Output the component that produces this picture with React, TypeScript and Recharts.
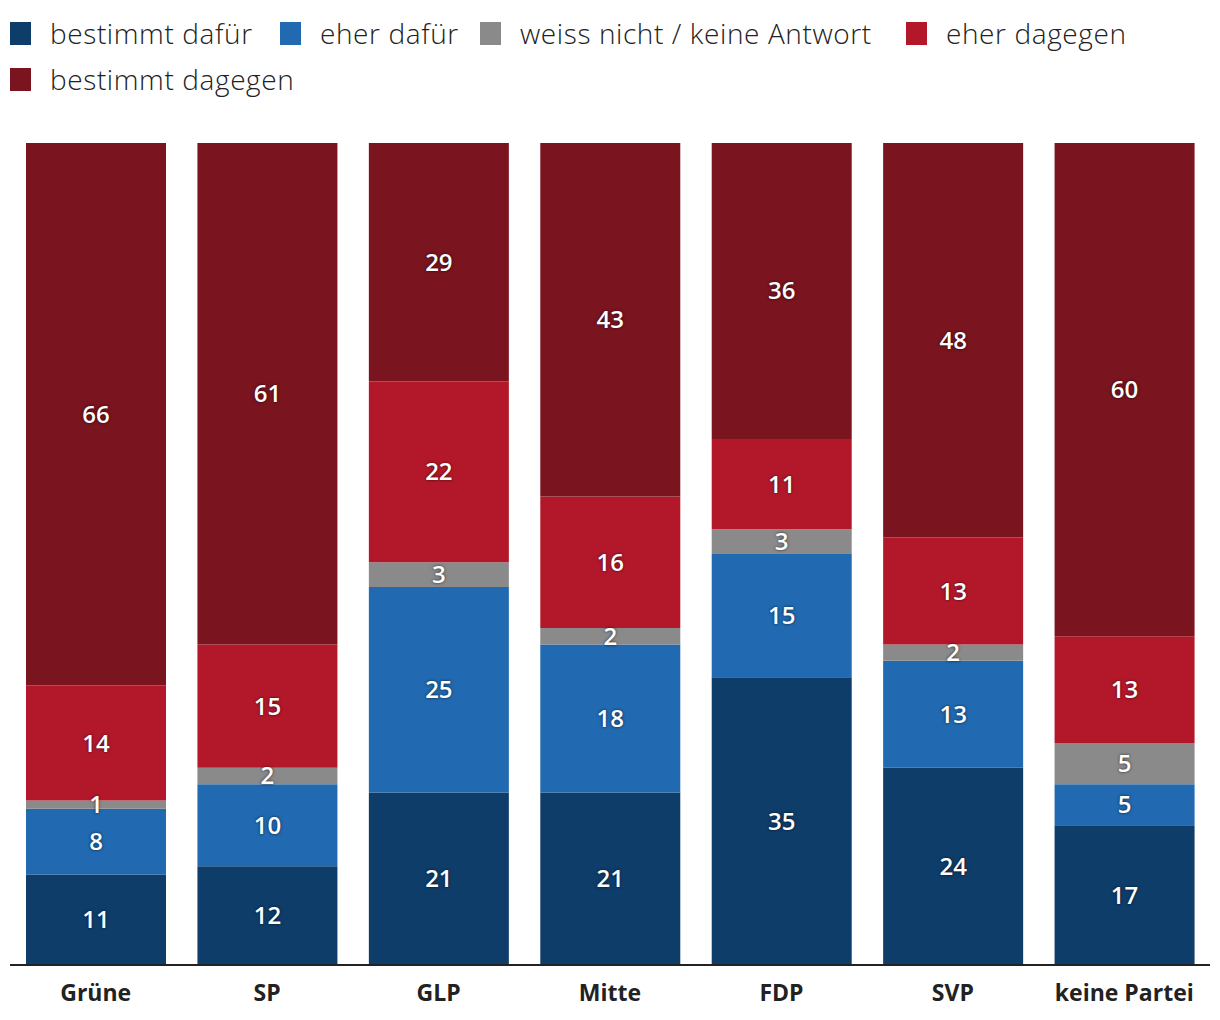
import { BarChart, Bar, XAxis, YAxis, LabelList } from 'recharts'

const parties = ['Grüne', 'SP', 'GLP', 'Mitte', 'FDP', 'SVP', 'keine Partei']
const bestimmtDafuer = [11, 12, 21, 21, 35, 24, 17]
const eherDafuer = [8, 10, 25, 18, 15, 13, 5]
const weissNicht = [1, 2, 3, 2, 3, 2, 5]
const eherDagegen = [14, 15, 22, 16, 11, 13, 13]
const bestimmtDagegen = [66, 61, 29, 43, 36, 48, 60]

const series = [
  { key: 'bestimmtDafuer', name: 'bestimmt dafür', color: '#0e3d69' },
  { key: 'eherDafuer', name: 'eher dafür', color: '#2169b0' },
  { key: 'weissNicht', name: 'weiss nicht / keine Antwort', color: '#8a8a8a' },
  { key: 'eherDagegen', name: 'eher dagegen', color: '#b3182a' },
  { key: 'bestimmtDagegen', name: 'bestimmt dagegen', color: '#7a141f' },
]

// legend item placement (left of swatch, row top)
const legendSpots = [
  { x: 10, y: 22 },
  { x: 280, y: 22 },
  { x: 480, y: 22 },
  { x: 906, y: 22 },
  { x: 10, y: 68 },
]

const FONT = '"Open Sans", "Noto Sans", sans-serif'

export default function App() {
  const data = parties.map((party, i) => ({
    party,
    bestimmtDafuer: bestimmtDafuer[i],
    eherDafuer: eherDafuer[i],
    weissNicht: weissNicht[i],
    eherDagegen: eherDagegen[i],
    bestimmtDagegen: bestimmtDagegen[i],
  }))

  return (
    <div style={{ position: 'absolute', left: 0, top: 0, width: 1220, height: 1020, background: '#fff', fontFamily: FONT }}>
      {series.map((s, i) => (
        <div
          key={s.key}
          style={{ position: 'absolute', left: legendSpots[i].x, top: legendSpots[i].y, display: 'flex', alignItems: 'center', height: 23 }}
        >
          <span style={{ display: 'inline-block', width: 21, height: 23, background: s.color, marginRight: 19 }} />
          <span style={{ fontSize: 28, fontWeight: 300, color: '#222', whiteSpace: 'nowrap', letterSpacing: 0.6, lineHeight: '23px' }}>
            {s.name}
          </span>
        </div>
      ))}
      <BarChart
        width={1220}
        height={1020}
        data={data}
        margin={{ top: 143, right: 10, bottom: 10, left: 10 }}
        barSize={140}
      >
        <XAxis
          dataKey="party"
          height={45}
          axisLine={{ stroke: '#222', strokeWidth: 2 }}
          tickLine={false}
          tickMargin={14}
          interval={0}
          tick={{ fill: '#222', fontSize: 23, fontWeight: 700, fontFamily: FONT }}
        />
        <YAxis hide domain={[0, 100]} />
        {series.map(s => (
          <Bar key={s.key} dataKey={s.key} name={s.name} stackId="a" fill={s.color} isAnimationActive={false}>
            <LabelList
              dataKey={s.key}
              position="center"
              fill="#fff"
              style={{ fontSize: 24, fontWeight: 600, fontFamily: FONT, textShadow: '0 0 3px rgba(0,0,0,0.7)' }}
            />
          </Bar>
        ))}
      </BarChart>
    </div>
  )
}
